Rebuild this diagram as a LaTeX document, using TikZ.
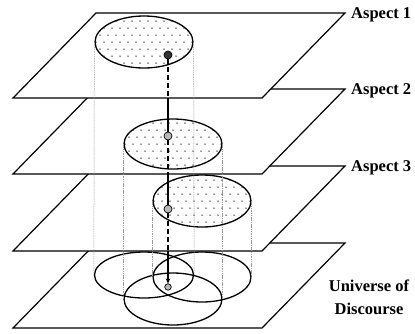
\documentclass[tikz,border=0pt]{standalone}
\usepackage{fontspec}
\setmainfont{Liberation Serif}
\usetikzlibrary{shapes.geometric,calc,arrows.meta}
\tikzset{
  plane/.style={draw=black,line width=1.2pt,fill=white,line join=miter},
  ell/.style={ellipse,draw=black,line width=1.3pt,inner sep=0pt},
  dotfill/.style={fill=white,path picture={
    \foreach \j in {-5,...,5}{
      \pgfmathsetmacro\s{mod(abs(\j),2)*4}
      \foreach \i in {-7,...,7}{
        \fill[black!85] ($(path picture bounding box.center)+(\i*8+\s,\j*7)$) circle (0.75pt);
      }}}},
  guide/.style={draw=gray!80,line width=0.5pt,dash pattern=on 1.5pt off 0.8pt},
  dotn/.style={circle,draw=black,line width=0.7pt,fill=gray!55,minimum size=8pt,inner sep=0pt},
  dashline/.style={line width=1.4pt,dash pattern=on 5pt off 3pt},
  solidline/.style={line width=1.2pt},
  lbl/.style={font=\fontsize{16.5}{23}\selectfont\bfseries,inner sep=0pt}
}
\begin{document}
\begin{tikzpicture}[x=1pt,y=-1pt]
\useasboundingbox (0,0) rectangle (415,333);
% plane 4 (universe of discourse)
\draw[plane] (96,243) -- (345,243) -- (262,328) -- (13,328) -- cycle;
\node[ell,minimum width=99pt,minimum height=46pt] (b1) at (144,275) {};
\node[ell,minimum width=98pt,minimum height=50pt] (b3) at (202,277) {};
\node[ell,minimum width=98pt,minimum height=52pt] (b2) at (173,299) {};
% plane 3
\draw[plane] (96,166) -- (345,166) -- (262,251) -- (13,251) -- cycle;
\node[ell,dotfill,minimum width=98pt,minimum height=52pt] (e3) at (202,201) {};
% plane 2
\draw[plane] (96,89) -- (345,89) -- (262,174) -- (13,174) -- cycle;
\node[ell,dotfill,minimum width=98pt,minimum height=50pt] (e2) at (173,144) {};
% plane 1
\draw[plane] (96,13) -- (345,13) -- (262,98) -- (13,98) -- cycle;
\node[ell,dotfill,minimum width=98pt,minimum height=52pt] (e1) at (144,42) {};
% guides
\draw[guide] (e1.west) -- (b1.west);
\draw[guide] (e1.east) -- (b1.east);
\draw[guide] (e2.west) -- (b2.west);
\draw[guide] (e2.east) -- (b2.east);
\draw[guide] (e3.west) -- (b3.west);
\draw[guide] (e3.east) -- (b3.east);
% points
\node[dotn,fill=black!80] (d1) at (168,55) {};
\node[dotn] (d2) at (168,136) {};
\node[dotn] (d3) at (168,209) {};
\node[dotn,minimum size=6.5pt] (d4) at (168,287) {};
\coordinate (c1) at (168,98);
\coordinate (c2) at (168,174);
\coordinate (c3) at (168,251);
\draw[dashline] (d1) -- (c1);
\draw[solidline] (c1) -- (d2);
\draw[dashline] (d2) -- (c2);
\draw[solidline] (c2) -- (d3);
\draw[dashline] (d3) -- (c3);
\draw[solidline,-{Stealth[length=5pt,width=4.5pt]}] (c3) -- (d4.north);
% labels
\node[lbl,anchor=base west] (a1) at (351,18) {Aspect 1};
\node[lbl,anchor=base west] (a2) at (351,94) {Aspect 2};
\node[lbl,anchor=base west] (a3) at (351,171) {Aspect 3};
\node[lbl,align=center] (u) at (369,297) {Universe of\\Discourse};
\end{tikzpicture}
\end{document}
